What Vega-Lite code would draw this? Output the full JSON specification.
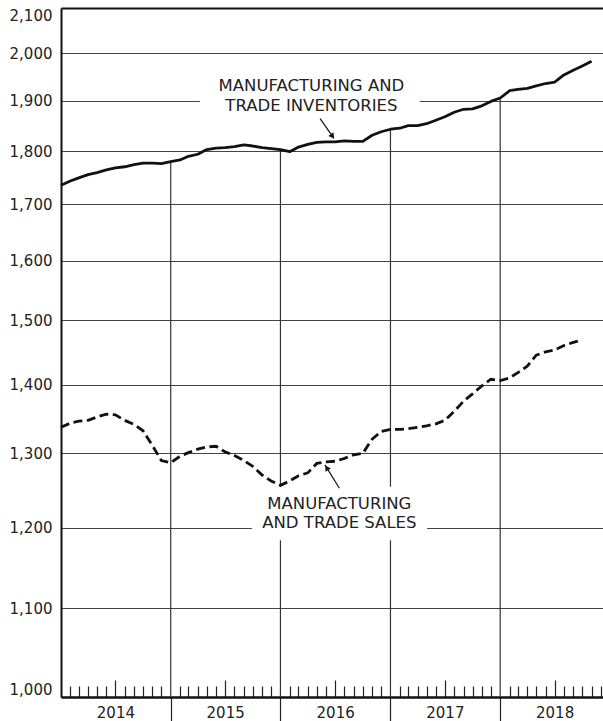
{
  "$schema": "https://vega.github.io/schema/vega-lite/v6.json",
  "width": 542,
  "height": 689,
  "autosize": {"type": "none"},
  "padding": {"left": 61, "top": 8, "right": 0, "bottom": 24},
  "background": "white",
  "config": {"view": {"stroke": null}},
  "datasets": {
    "inventories": [
      {"date":"2014-01-01","value":1735},{"date":"2014-02-01","value":1743},{"date":"2014-03-01","value":1749},{"date":"2014-04-01","value":1755},{"date":"2014-05-01","value":1759},{"date":"2014-06-01","value":1764},{"date":"2014-07-01","value":1768},{"date":"2014-08-01","value":1770},{"date":"2014-09-01","value":1774},{"date":"2014-10-01","value":1777},{"date":"2014-11-01","value":1777},{"date":"2014-12-01","value":1776},
      {"date":"2015-01-01","value":1780},{"date":"2015-02-01","value":1783},{"date":"2015-03-01","value":1790},{"date":"2015-04-01","value":1794},{"date":"2015-05-01","value":1803},{"date":"2015-06-01","value":1806},{"date":"2015-07-01","value":1807},{"date":"2015-08-01","value":1809},{"date":"2015-09-01","value":1812},{"date":"2015-10-01","value":1810},{"date":"2015-11-01","value":1807},{"date":"2015-12-01","value":1805},
      {"date":"2016-01-01","value":1803},{"date":"2016-02-01","value":1799},{"date":"2016-03-01","value":1808},{"date":"2016-04-01","value":1813},{"date":"2016-05-01","value":1817},{"date":"2016-06-01","value":1818},{"date":"2016-07-01","value":1818},{"date":"2016-08-01","value":1820},{"date":"2016-09-01","value":1819},{"date":"2016-10-01","value":1819},{"date":"2016-11-01","value":1831},{"date":"2016-12-01","value":1838},
      {"date":"2017-01-01","value":1843},{"date":"2017-02-01","value":1845},{"date":"2017-03-01","value":1850},{"date":"2017-04-01","value":1850},{"date":"2017-05-01","value":1854},{"date":"2017-06-01","value":1861},{"date":"2017-07-01","value":1868},{"date":"2017-08-01","value":1877},{"date":"2017-09-01","value":1883},{"date":"2017-10-01","value":1884},{"date":"2017-11-01","value":1890},{"date":"2017-12-01","value":1899},
      {"date":"2018-01-01","value":1906},{"date":"2018-02-01","value":1921},{"date":"2018-03-01","value":1924},{"date":"2018-04-01","value":1926},{"date":"2018-05-01","value":1931},{"date":"2018-06-01","value":1936},{"date":"2018-07-01","value":1939},{"date":"2018-08-01","value":1954},{"date":"2018-09-01","value":1964},{"date":"2018-10-01","value":1973},{"date":"2018-11-01","value":1983}
    ],
    "sales": [
      {"date":"2014-01-01","value":1337},{"date":"2014-02-01","value":1343},{"date":"2014-03-01","value":1346},{"date":"2014-04-01","value":1347},{"date":"2014-05-01","value":1352},{"date":"2014-06-01","value":1356},{"date":"2014-07-01","value":1355},{"date":"2014-08-01","value":1347},{"date":"2014-09-01","value":1341},{"date":"2014-10-01","value":1332},{"date":"2014-11-01","value":1311},{"date":"2014-12-01","value":1290},
      {"date":"2015-01-01","value":1287},{"date":"2015-02-01","value":1296},{"date":"2015-03-01","value":1301},{"date":"2015-04-01","value":1306},{"date":"2015-05-01","value":1309},{"date":"2015-06-01","value":1310},{"date":"2015-07-01","value":1302},{"date":"2015-08-01","value":1297},{"date":"2015-09-01","value":1290},{"date":"2015-10-01","value":1282},{"date":"2015-11-01","value":1270},{"date":"2015-12-01","value":1262},
      {"date":"2016-01-01","value":1256},{"date":"2016-02-01","value":1262},{"date":"2016-03-01","value":1269},{"date":"2016-04-01","value":1273},{"date":"2016-05-01","value":1286},{"date":"2016-06-01","value":1288},{"date":"2016-07-01","value":1289},{"date":"2016-08-01","value":1293},{"date":"2016-09-01","value":1298},{"date":"2016-10-01","value":1300},{"date":"2016-11-01","value":1320},{"date":"2016-12-01","value":1331},
      {"date":"2017-01-01","value":1334},{"date":"2017-02-01","value":1334},{"date":"2017-03-01","value":1335},{"date":"2017-04-01","value":1337},{"date":"2017-05-01","value":1339},{"date":"2017-06-01","value":1342},{"date":"2017-07-01","value":1347},{"date":"2017-08-01","value":1360},{"date":"2017-09-01","value":1375},{"date":"2017-10-01","value":1386},{"date":"2017-11-01","value":1398},{"date":"2017-12-01","value":1408},
      {"date":"2018-01-01","value":1406},{"date":"2018-02-01","value":1410},{"date":"2018-03-01","value":1418},{"date":"2018-04-01","value":1428},{"date":"2018-05-01","value":1445},{"date":"2018-06-01","value":1450},{"date":"2018-07-01","value":1453},{"date":"2018-08-01","value":1460},{"date":"2018-09-01","value":1465},{"date":"2018-10-01","value":1469}
    ],
    "boxes": [
      {"date":"2015-04-08","date2":"2017-04-09","value":1876,"value2":1953},
      {"date":"2015-09-28","date2":"2017-05-03","value":1184,"value2":1254}
    ],
    "labels": [
      {"date":"2016-04-13","value":1920,"label":"MANUFACTURING AND"},
      {"date":"2016-04-13","value":1880,"label":"TRADE INVENTORIES"},
      {"date":"2016-07-15","value":1224,"label":"MANUFACTURING"},
      {"date":"2016-07-15","value":1200,"label":"AND TRADE SALES"}
    ],
    "arrows": [
      {"series":"inv","date":"2016-05-12","value":1864,"date2":"2016-06-27","value2":1825},
      {"series":"sales","date":"2016-07-15","value":1252,"date2":"2016-05-28","value2":1284}
    ],
    "heads": [
      {"series":"inv","date":"2016-06-22","value":1829},
      {"series":"sales","date":"2016-06-03","value":1280}
    ]
  },
  "encoding": {
    "x": {
      "field": "date", "type": "temporal",
      "scale": {"type": "utc", "domain": [{"year":2014,"month":1,"date":1,"utc":true},{"year":2018,"month":12,"date":9,"utc":true}]},
      "axis": {
        "title": null, "orient": "bottom", "grid": false,
        "tickCount": {"interval": "month", "step": 1},
        "domainColor": "#111", "domainWidth": 2.5,
        "tickColor": "#222", "tickWidth": 1.2,
        "tickSize": {"condition": [
          {"test": "utcmonth(datum.value)==0 && utcyear(datum.value)==2014", "value": 0},
          {"test": "utcmonth(datum.value)==0", "value": 24},
          {"test": "utcmonth(datum.value)==6", "value": -17}
        ], "value": -11},
        "labelExpr": "utcmonth(datum.value)==6 ? utcFormat(datum.value, '%Y') : ''",
        "labelOverlap": false, "labelFlush": false, "labelBound": false,
        "labelPadding": 25.5, "labelFont": "DejaVu Sans", "labelFontSize": 15, "labelColor": "#222"
      }
    },
    "y": {
      "field": "value", "type": "quantitative",
      "scale": {"type": "log", "domain": [1000, 2100], "nice": false, "zero": false},
      "axis": {
        "title": null, "values": [1000,1100,1200,1300,1400,1500,1600,1700,1800,1900,2000,2100],
        "format": ",", "grid": true,
        "gridColor": {"condition": {"test": "datum.value==2100", "value": "#111"}, "value": "#444"},
        "gridWidth": {"condition": {"test": "datum.value==2100", "value": 2}, "value": 1},
        "ticks": false, "domainColor": "#111", "domainWidth": 2,
        "labelPadding": 9, "labelFont": "DejaVu Sans", "labelFontSize": 15, "labelColor": "#222",
        "labelFlush": true, "labelFlushOffset": 0, "labelOverlap": false
      }
    }
  },
  "layer": [
    {
      "data": {"name": "inventories"},
      "transform": [{"filter": "utcmonth(toDate(datum.date))==0 && utcyear(toDate(datum.date))>2014"}],
      "mark": {"type": "rule", "color": "#333", "strokeWidth": 1.2},
      "encoding": {"y2": {"datum": 1000}}
    },
    {
      "data": {"name": "boxes"},
      "mark": {"type": "rect", "color": "white"},
      "encoding": {"x2": {"field": "date2"}, "y2": {"field": "value2"}}
    },
    {
      "data": {"name": "inventories"},
      "mark": {"type": "line", "color": "#111", "strokeWidth": 2.8, "strokeJoin": "round"},
      "encoding": {}
    },
    {
      "data": {"name": "sales"},
      "mark": {"type": "line", "color": "#111", "strokeWidth": 2.8, "strokeDash": [9, 4.5]},
      "encoding": {}
    },
    {
      "data": {"name": "labels"},
      "mark": {"type": "text", "font": "DejaVu Sans", "fontSize": 16.5, "color": "#222", "align": "center", "baseline": "alphabetic"},
      "encoding": {"text": {"field": "label"}}
    },
    {
      "data": {"name": "arrows"},
      "mark": {"type": "rule", "color": "#111", "strokeWidth": 1.2},
      "encoding": {"x2": {"field": "date2"}, "y2": {"field": "value2"}}
    },
    {
      "data": {"name": "heads"},
      "transform": [{"filter": "datum.series=='inv'"}],
      "mark": {"type": "point", "shape": "triangle-up", "filled": true, "color": "#111", "size": 40, "angle": 145, "opacity": 1},
      "encoding": {}
    },
    {
      "data": {"name": "heads"},
      "transform": [{"filter": "datum.series=='sales'"}],
      "mark": {"type": "point", "shape": "triangle-up", "filled": true, "color": "#111", "size": 40, "angle": 329, "opacity": 1},
      "encoding": {}
    }
  ]
}
